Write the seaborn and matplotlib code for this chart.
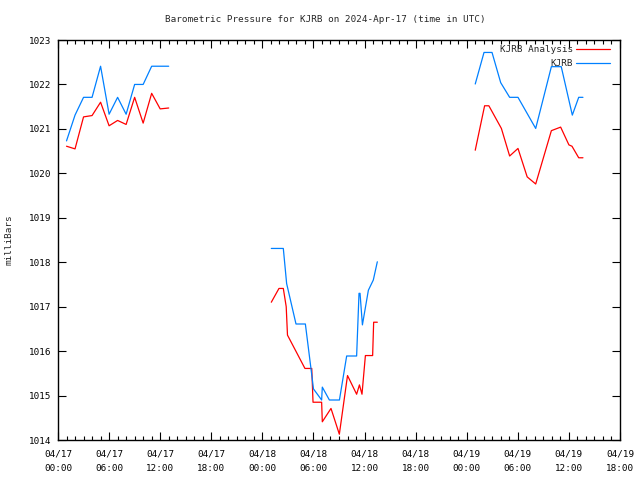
import matplotlib
matplotlib.use("Agg")
import matplotlib.pyplot as plt
import matplotlib.dates as mdates
import numpy as np
import pandas as pd
import seaborn as sns

# ---- data (hours after 2024-04-17 00:00 UTC, pressure in mb) ----
analysis_hours = [1, 2, 3, 4, 5, 6, 7, 8, 9, 10, 11, 12, 13,
                  25.05, 25.95, 26.46, 26.8, 26.95, 29.0, 29.8, 29.95, 30.96, 31.04,
                  32.06, 33.04, 34.0, 35.07, 35.4, 35.7, 36.1, 36.95, 37.07, 37.5,
                  49.0, 50.1, 50.6, 52.07, 53.04, 54.02, 55.1, 56.1, 57.94, 59.03,
                  60.0, 60.36, 61.15, 61.65]
analysis_values = [1020.61, 1020.55, 1021.27, 1021.30, 1021.60, 1021.07, 1021.19,
                   1021.10, 1021.71, 1021.13, 1021.80, 1021.45, 1021.47,
                   1017.10, 1017.41, 1017.41, 1017.00, 1016.36, 1015.61, 1015.61,
                   1014.85, 1014.85, 1014.41, 1014.71, 1014.13, 1015.45, 1015.03,
                   1015.24, 1015.03, 1015.90, 1015.90, 1016.65, 1016.65,
                   1020.52, 1021.52, 1021.52, 1021.01, 1020.39, 1020.56, 1019.92,
                   1019.76, 1020.96, 1021.04, 1020.64, 1020.61, 1020.35, 1020.35]

obs_hours = [1, 2, 3, 4, 5, 6, 7, 8, 9, 10, 11, 12, 13,
             25.05, 26.46, 26.85, 27.95, 29.05, 29.85, 30.0, 30.96, 31.04, 31.87,
             33.05, 33.9, 35.07, 35.35, 35.47, 35.75, 36.45, 37.03, 37.5,
             49.0, 50.03, 50.97, 51.99, 53.04, 54.02, 56.1, 57.94, 59.1, 60.4,
             61.15, 61.65]
obs_values = [1020.73, 1021.31, 1021.71, 1021.71, 1022.41, 1021.33, 1021.71,
              1021.33, 1022.00, 1022.00, 1022.41, 1022.41, 1022.41,
              1018.31, 1018.31, 1017.52, 1016.61, 1016.61, 1015.39, 1015.15,
              1014.90, 1015.19, 1014.90, 1014.90, 1015.89, 1015.89, 1017.30,
              1017.30, 1016.59, 1017.37, 1017.60, 1018.01,
              1022.01, 1022.72, 1022.72, 1022.04, 1021.71, 1021.71, 1021.01,
              1022.40, 1022.40, 1021.31, 1021.71, 1021.71]

series_names = ["KJRB Analysis", "KJRB"]
series_colors = ["#ff0000", "#0080ff"]
y_ticks = [1014, 1015, 1016, 1017, 1018, 1019, 1020, 1021, 1022, 1023]
title = "Barometric Pressure for KJRB on 2024-Apr-17 (time in UTC)"
y_label = "milliBars"

start = pd.Timestamp("2024-04-17 00:00")
end = pd.Timestamp("2024-04-19 18:00")


def frame(hours, values, name):
    h = np.asarray(hours, dtype=float)
    seg = np.concatenate([[0], np.cumsum(np.diff(h) > 4)])
    return pd.DataFrame({
        "time": start + pd.to_timedelta(h, unit="h"),
        "value": values,
        "series": name,
        "segment": seg,
    })


df = pd.concat([frame(analysis_hours, analysis_values, series_names[0]),
                frame(obs_hours, obs_values, series_names[1])], ignore_index=True)

FS = 6.7
sns.set_style("ticks")
plt.rcParams["font.family"] = ["DejaVu Sans Mono", "DejaVu Sans"]
plt.rcParams["font.size"] = FS

fig = plt.figure(figsize=(6.4, 4.8), dpi=100)
ax = fig.add_axes([58 / 640, 1 - 440 / 480, (620 - 58) / 640, 400 / 480])

sns.lineplot(data=df, x="time", y="value", hue="series", hue_order=series_names,
             units="segment", estimator=None,
             palette=dict(zip(series_names, series_colors)),
             linewidth=0.9, ax=ax, legend=True)

ax.set_xlim(start, end)
ax.set_ylim(y_ticks[0], y_ticks[-1])
ax.set_yticks(y_ticks)
ax.set_yticklabels([str(t) for t in y_ticks])
ax.xaxis.set_major_locator(mdates.HourLocator(byhour=[0, 6, 12, 18]))
ax.xaxis.set_major_formatter(mdates.DateFormatter("%m/%d\n%H:%M"))
ax.xaxis.set_minor_locator(mdates.HourLocator(interval=1))
for lab in ax.get_xticklabels():
    lab.set_linespacing(1.75)

ax.tick_params(which="both", direction="in", top=True, right=True,
               colors="black", labelsize=FS, width=0.8)
ax.tick_params(which="major", length=6)
ax.tick_params(which="minor", length=3)
ax.tick_params(axis="x", which="major", pad=7)
ax.tick_params(axis="y", which="major", pad=5)
for s in ax.spines.values():
    s.set_linewidth(1.0)
    s.set_color("black")

ax.set_xlabel("")
ax.set_ylabel(y_label, fontsize=FS)
ax.yaxis.set_label_coords(-44 / 562, 0.5)

handles, labels = ax.get_legend_handles_labels()
ax.legend(handles, labels, loc="upper right", bbox_to_anchor=(0.982, 0.987),
          frameon=False, markerfirst=False,
          fontsize=FS, handlelength=3.6, handletextpad=0.4, labelspacing=0.55,
          borderaxespad=0.0, borderpad=0.0)

fig.text(325 / 640, 1 - 20 / 480, title, ha="center", va="center", fontsize=FS)

fig.savefig("out.png", dpi=100)
